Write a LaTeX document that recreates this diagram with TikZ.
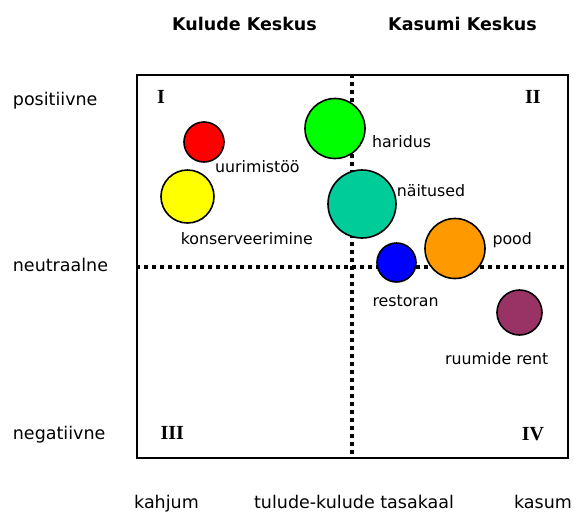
\documentclass[tikz,border=0pt]{standalone}
\usepackage{fontspec}
\setmainfont{DejaVu Sans}
\newfontfamily\romfont{Liberation Serif}
\definecolor{cred}{HTML}{FF0000}
\definecolor{cyellow}{HTML}{FFFF00}
\definecolor{cgreen}{HTML}{00FF00}
\definecolor{cteal}{HTML}{00CC99}
\definecolor{cblue}{HTML}{0000FF}
\definecolor{corange}{HTML}{FF9900}
\definecolor{cpurple}{HTML}{993366}
\begin{document}
\begin{tikzpicture}[x=1pt,y=-1pt,
  bubble/.style={circle,draw=black,line width=1.6pt,inner sep=0pt},
  lbl/.style={anchor=base west,inner sep=0pt,font=\fontsize{15.8}{18}\selectfont},
  sidelbl/.style={anchor=base west,inner sep=0pt,font=\fontsize{17.5}{20}\selectfont},
  bottomlbl/.style={anchor=base,inner sep=0pt,font=\fontsize{17.5}{20}\selectfont},
  head/.style={anchor=base,inner sep=0pt,font=\fontsize{17.5}{20}\selectfont\bfseries},
  roman/.style={anchor=base,inner sep=0pt,font=\fontsize{20}{22}\selectfont\romfont\bfseries},
  divider/.style={line width=3.8pt,dash pattern=on 3.8pt off 4.2pt}]
\useasboundingbox (0,0) rectangle (574,512);

% frame
\node[draw,line width=2pt,minimum width=431pt,minimum height=383pt,inner sep=0pt] (box) at (352.2,266.7) {};
\draw[divider] (box.north) -- (box.south);
\draw[divider] (box.west) -- (box.east);

% headers
\node[head] (kulud) at (244.5,30.7) {Kulude Keskus};
\node[head] (kasum) at (462.5,30.7) {Kasumi Keskus};

% axis labels left
\node[sidelbl] (pos) at (12.7,105) {positiivne};
\node[sidelbl] (neu) at (12.7,271.7) {neutraalne};
\node[sidelbl] (neg) at (12.7,439) {negatiivne};

% axis labels bottom
\node[bottomlbl] (kahj) at (166.5,508) {kahjum};
\node[bottomlbl] (tasa) at (354,508) {tulude-kulude tasakaal};
\node[bottomlbl] (kas) at (543,508) {kasum};

% quadrant numerals
\node[roman] (q1) at (161,103.3) {I};
\node[roman] (q2) at (533,103.3) {II};
\node[roman] (q3) at (172.3,439.3) {III};
\node[roman] (q4) at (533,440.7) {IV};

% bubbles
\node[bubble,fill=cred,minimum size=40pt] (uur) at (204,142) {};
\node[bubble,fill=cyellow,minimum size=53pt] (kons) at (187.5,196.5) {};
\node[bubble,fill=cgreen,minimum size=60pt] (har) at (335,128.5) {};
\node[bubble,fill=cteal,minimum size=68pt] (nai) at (362,204) {};
\node[bubble,fill=cblue,minimum size=39pt] (res) at (396.5,262.5) {};
\node[bubble,fill=corange,minimum size=60pt] (pood) at (455,248.5) {};
\node[bubble,fill=cpurple,minimum size=45pt] (ruum) at (519.5,312.5) {};

% bubble labels
\node[lbl] (luur) at (215,172.5) {uurimistöö};
\node[lbl] (lkons) at (180.7,244) {konserveerimine};
\node[lbl] (lhar) at (372,147.5) {haridus};
\node[lbl] (lnai) at (396.7,196) {näitused};
\node[lbl] (lpood) at (492.3,244) {pood};
\node[lbl] (lres) at (372.3,306.5) {restoran};
\node[lbl] (lruum) at (445,364) {ruumide rent};
\end{tikzpicture}
\end{document}
